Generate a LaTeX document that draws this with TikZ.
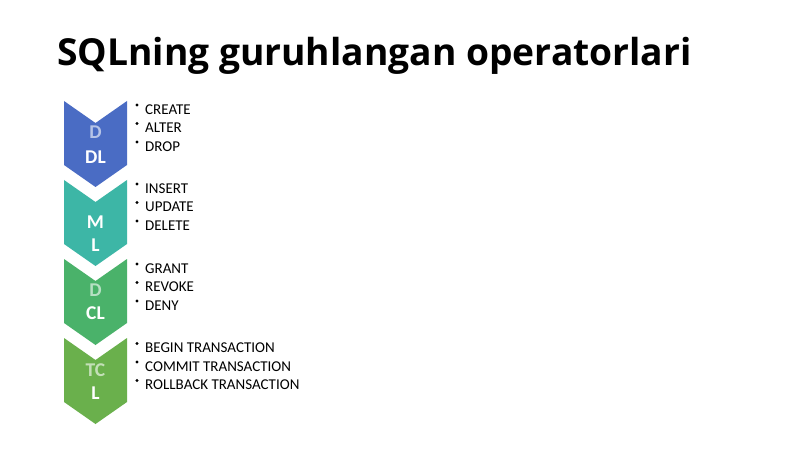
\documentclass[tikz,border=0pt]{standalone}
\usepackage{fontspec}
\setmainfont{Carlito}
\newfontfamily\titlefont{Open Sans}
\definecolor{cDDL}{HTML}{4A6CC4}
\definecolor{cDML}{HTML}{3DB6A6}
\definecolor{cDCL}{HTML}{4AB26A}
\definecolor{cTCL}{HTML}{6AB04C}
\begin{document}
\begin{tikzpicture}[x=1pt,y=-1pt,
  lbl/.style={inner sep=0pt,text=white,font=\bfseries\fontsize{19.5}{22}\selectfont},
  faint/.style={text opacity=0.6},
  item/.style={anchor=west,inner sep=0pt,font=\fontsize{15}{17}\selectfont},
  bul/.style={circle,fill=black,inner sep=0pt,minimum size=3.3pt},
  ttl/.style={anchor=base west,inner sep=0pt,font=\titlefont\bfseries\fontsize{37.2}{42}\selectfont}]
\useasboundingbox (0,0) rectangle (800,449);
\fill[white] (0,0) rectangle (800,449);
\node[ttl] (title) at (57,66) {SQLning guruhlangan operatorlari};
% chevrons
\foreach \t/\c in {101/cDDL,180/cDML,259/cDCL,338/cTCL}{
  \fill[\c] (64,\t) -- (95.5,\t+22) -- (127,\t) -- (127,\t+64) -- (95.5,\t+86) -- (64,\t+64) -- cycle;
}
\node[lbl,faint] (l1a) at (95.5,132) {D};
\node[lbl] (l1b) at (95.5,157) {DL};
\node[lbl] (l2a) at (95.5,222) {M};
\node[lbl] (l2b) at (95.5,245) {L};
\node[lbl,faint] (l3a) at (95.5,290) {D};
\node[lbl] (l3b) at (95.5,313) {CL};
\node[lbl,faint] (l4a) at (95.5,370) {TC};
\node[lbl] (l4b) at (95.5,393) {L};
% bullet items
\foreach \n/\y/\txt in {a1/109.5/CREATE,a2/128/ALTER,a3/146.5/DROP,
  b1/188.5/INSERT,b2/207/UPDATE,b3/225.5/DELETE,
  c1/268.5/GRANT,c2/287/REVOKE,c3/305.5/DENY,
  d1/348/BEGIN TRANSACTION,d2/366.5/COMMIT TRANSACTION,d3/385/ROLLBACK TRANSACTION}{
  \node[bul] (bul\n) at (137,\y-4.5) {};
  \node[item] (it\n) at (145,\y) {\txt};
}
\end{tikzpicture}
\end{document}
